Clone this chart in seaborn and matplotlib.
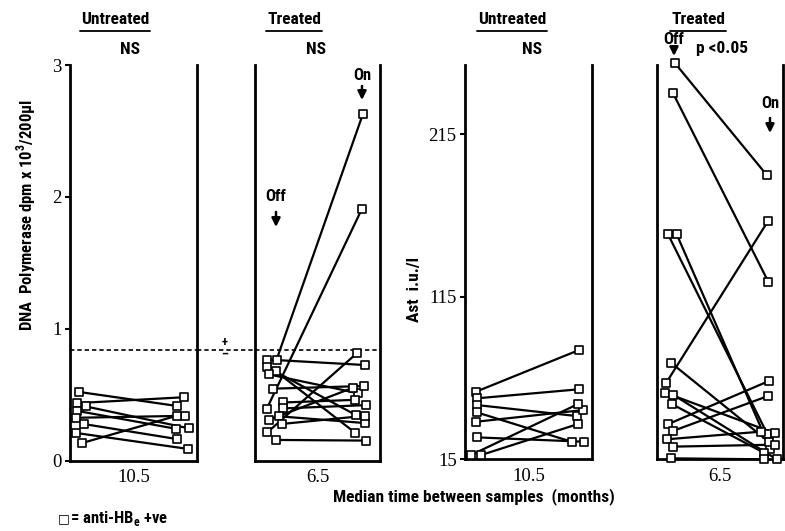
import numpy as np
import pandas as pd
import matplotlib
matplotlib.use("Agg")
import matplotlib.pyplot as plt
import matplotlib.patches as mpatches
import seaborn as sns
from matplotlib.lines import Line2D

# ---------------- data ----------------
# Panel A: DNA polymerase, untreated (start -> end)
dna_un_start_x = [0.071, 0.052, 0.126, 0.052, 0.045, 0.113, 0.047, 0.097]
dna_un_start_y = [0.52, 0.435, 0.41, 0.377, 0.324, 0.276, 0.209, 0.133]
dna_un_end_x = [0.84, 0.90, 0.935, 0.832, 0.906, 0.84, 0.927, 0.84]
dna_un_end_y = [0.414, 0.48, 0.244, 0.241, 0.339, 0.163, 0.088, 0.339]

# Panel B: DNA polymerase, treated (off -> on)
dna_tr_start_x = [0.173, 0.093, 0.093, 0.093, 0.165, 0.112, 0.147, 0.227, 0.221, 0.115, 0.195, 0.213, 0.099, 0.168]
dna_tr_start_y = [0.766, 0.39, 0.766, 0.711, 0.678, 0.653, 0.545, 0.44, 0.395, 0.309, 0.335, 0.277, 0.214, 0.156]
dna_tr_end_x = [0.864, 0.856, 0.883, 0.808, 0.803, 0.827, 0.875, 0.80, 0.888, 0.787, 0.88, 0.88, 0.813, 0.888]
dna_tr_end_y = [2.63, 1.91, 0.724, 0.344, 0.209, 0.51, 0.565, 0.46, 0.42, 0.553, 0.284, 0.339, 0.812, 0.151]

# Panel C: AST, untreated
ast_un_start_x = [0.087, 0.092, 0.092, 0.092, 0.087, 0.092, 0.047, 0.126]
ast_un_start_y = [56.6, 52.5, 48.4, 43.9, 38.1, 28.5, 17.6, 17.6]
ast_un_end_x = [0.90, 0.90, 0.88, 0.84, 0.93, 0.94, 0.89, 0.89]
ast_un_end_y = [82.3, 58.1, 41.6, 25.8, 45.3, 25.8, 49.0, 36.7]

# Panel D: AST, treated
ast_tr_start_x = [0.143, 0.125, 0.087, 0.156, 0.111, 0.071, 0.063, 0.130, 0.117, 0.090, 0.125, 0.077, 0.130, 0.111]
ast_tr_start_y = [258.7, 240.6, 153.5, 153.5, 74.4, 61.8, 56.0, 54.6, 49.0, 36.7, 32.4, 27.3, 22.8, 15.6]
ast_tr_end_x = [0.87, 0.883, 0.875, 0.90, 0.89, 0.883, 0.937, 0.95, 0.85, 0.889, 0.883, 0.823, 0.937, 0.85]
ast_tr_end_y = [190.0, 124.3, 30.6, 21.2, 25.6, 161.8, 31.0, 15.0, 19.0, 63.2, 54.0, 32.0, 24.0, 15.0]

dna_ticks = [0, 1, 2, 3]
ast_ticks = [15, 115, 215]
group_titles = ["Untreated", "Treated", "Untreated", "Treated"]
sig_labels = ["NS", "NS", "NS", "p <0.05"]
time_labels = ["10.5", "6.5", "10.5", "6.5"]
dna_cutoff = 0.84

# ---------------- style ----------------
sns.set_theme(style="white")
plt.rcParams["font.family"] = ["Roboto Condensed", "Liberation Sans", "DejaVu Sans"]
plt.rcParams["font.weight"] = "bold"
plt.rcParams["mathtext.fontset"] = "custom"
plt.rcParams["mathtext.rm"] = "Roboto Condensed:bold"
num_font = dict(family=["Liberation Serif", "DejaVu Serif"], weight="normal", size=13.5)

W, H = 785, 531
fig = plt.figure(figsize=(W / 100, H / 100), dpi=100)


def px_axes(l, r, t, b):
    return fig.add_axes([l / W, 1 - b / H, (r - l) / W, (b - t) / H])


def ftxt(x, y, s, **kw):
    kw.setdefault("ha", "center")
    kw.setdefault("va", "center")
    kw.setdefault("color", "black")
    return fig.text(x / W, 1 - y / H, s, **kw)


def make_df(sx, sy, ex, ey):
    n = len(sx)
    ids = list(range(n)) * 2
    return pd.DataFrame({"id": ids, "x": list(sx) + list(ex), "y": list(sy) + list(ey)})


ax1 = px_axes(70, 197, 65, 460.5)
ax2 = px_axes(255, 380, 65, 460.5)
ax3 = px_axes(465, 592, 65, 459.3)
ax4 = px_axes(657, 783, 65, 459.3)

panels = [
    (ax1, make_df(dna_un_start_x, dna_un_start_y, dna_un_end_x, dna_un_end_y)),
    (ax2, make_df(dna_tr_start_x, dna_tr_start_y, dna_tr_end_x, dna_tr_end_y)),
    (ax3, make_df(ast_un_start_x, ast_un_start_y, ast_un_end_x, ast_un_end_y)),
    (ax4, make_df(ast_tr_start_x, ast_tr_start_y, ast_tr_end_x, ast_tr_end_y)),
]

for i, (ax, df) in enumerate(panels):
    sns.lineplot(data=df, x="x", y="y", units="id", estimator=None, sort=False,
                 color="black", lw=1.6, ax=ax, legend=False)
    sns.scatterplot(data=df, x="x", y="y", marker="s", s=30, color="white",
                    edgecolor="black", linewidth=1.2, zorder=4, ax=ax,
                    legend=False, clip_on=False)
    ax.set_xlim(0, 1)
    ax.set_facecolor("white")
    for side in ["left", "right", "bottom"]:
        ax.spines[side].set_visible(True)
        ax.spines[side].set_linewidth(2.0)
        ax.spines[side].set_color("black")
    ax.spines["top"].set_visible(False)
    ax.set_xlabel("")
    ax.set_ylabel("")
    ax.set_xticks([0.5])
    ax.set_xticklabels([time_labels[i]], fontdict=num_font)
    ax.tick_params(axis="x", length=0, pad=6, colors="black")
    ax.grid(False)

for ax in (ax1, ax2):
    ax.set_ylim(0, 3)
for ax in (ax3, ax4):
    ax.set_ylim(15, 257.6)

ax1.set_yticks(dna_ticks)
ax1.set_yticklabels([str(t) for t in dna_ticks], fontdict=num_font)
ax3.set_yticks(ast_ticks)
ax3.set_yticklabels([str(t) for t in ast_ticks], fontdict=num_font)
for ax in (ax1, ax3):
    ax.tick_params(axis="y", left=True, direction="out", length=3.5, width=1.5,
                   pad=2.5, colors="black")
for ax in (ax2, ax4):
    ax.set_yticks([])

# dashed cut-off line spanning panels A and B
dash = (0, (2.6, 1.8))
ax1.axhline(dna_cutoff, color="black", lw=1.2, ls=dash, zorder=1)
ax2.axhline(dna_cutoff, color="black", lw=1.2, ls=dash, zorder=1)
fig.add_artist(Line2D([197 / W, 255 / W], [1 - 350.2 / H, 1 - 350.2 / H],
                      color="black", lw=1.2, ls=dash))
ftxt(225, 342.5, "+", fontsize=9)
ftxt(224.5, 354.5, "\u2013", fontsize=9)

# titles
title_x = [115, 294, 512, 698]
title_objs = []
for x, t in zip(title_x, group_titles):
    title_objs.append(ftxt(x, 19, t, fontsize=12.5))
ftxt(130, 50, sig_labels[0], fontsize=12.5)
ftxt(316, 50, sig_labels[1], fontsize=12.5)
ftxt(532, 50, sig_labels[2], fontsize=12.5)
ftxt(722, 48, sig_labels[3], fontsize=12.5)

# Off / On annotations
ftxt(276, 196, "Off", fontsize=12)
ftxt(362, 75, "On", fontsize=12)
ftxt(674, 40, "Off", fontsize=12)
ftxt(770, 104, "On", fontsize=12)
arrow_kw = dict(arrowstyle="-|>,head_length=0.5,head_width=0.25", lw=1.8, color="black",
                shrinkA=0, shrinkB=0)
for (x, y0, y1) in [(276, 212, 227), (362, 86, 100), (674, 48, 56), (770, 118, 133)]:
    fig.add_artist(mpatches.FancyArrowPatch(
        (x / W, 1 - y0 / H), (x / W, 1 - y1 / H), transform=fig.transFigure,
        mutation_scale=10, **arrow_kw))

# axis labels
ftxt(26, 215, "DNA  Polymerase dpm x 10$^{\\mathregular{3}}$/200\u00b5l", fontsize=12, rotation=90)
ftxt(414, 290, "Ast  i.u./l", fontsize=12.5, rotation=90)
ftxt(474, 497, "Median time between samples  (months)", fontsize=12.5)

# legend note
ftxt(64, 519, "\u25a1", fontsize=9, family="DejaVu Sans", fontweight="normal")
ftxt(70, 518, "= anti-HB$_{\\mathregular{e}}$ +ve", fontsize=12, ha="left")

# underline titles
fig.canvas.draw()
renderer = fig.canvas.get_renderer()
for t in title_objs:
    bb = t.get_window_extent(renderer).transformed(fig.transFigure.inverted())
    yline = 1 - 31 / H
    fig.add_artist(Line2D([bb.x0 - 1 / W, bb.x1 + 1 / W], [yline, yline], color="black", lw=1.3))

fig.savefig("out.png", dpi=100, facecolor="white")
